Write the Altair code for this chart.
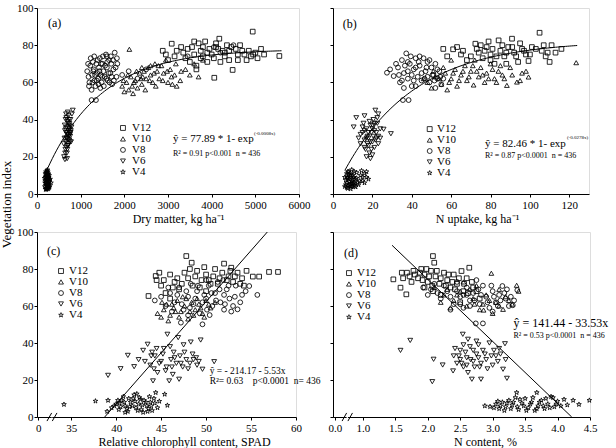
import altair as alt
import numpy as np
import pandas as pd

FONT = "Liberation Serif"
STAGES = ["V12", "V10", "V8", "V6", "V4"]
STAR = ("M0,-1L0.2245,-0.309L0.951,-0.309L0.363,0.118L0.588,0.809L0,0.382"
        "L-0.588,0.809L-0.363,0.118L-0.951,-0.309L-0.2245,-0.309Z")
SHAPES = ["square", "triangle-up", "circle", "triangle-down", STAR]
SIZES = [22, 24, 42, 22, 34]

# ---- (a) dry matter (kg/ha) vs vegetation index ----
A_V12 = [(2880,77),(2950,75),(3085,80.8),(3200,77),(3350,76),(3400,73),(3500,71),(3550,79),(3600,75),
         (3650,69),(3700,81),(3750,77),(3800,74),(3850,82),(3900,71),(3950,78),(4000,75),(4060,62.5),
         (4100,79),(4175,83.5),(4250,77),(4300,74),(4350,80),(4400,72),(4480,66.7),(4550,78),(4600,75),
         (4700,77),(4800,72),(4900,74),(4940,87.3),(5000,76),(5130,78),(5200,75),(5550,74.2),(4200,71),(3650,67),
         (3000,72),(3150,74),(3300,79),(3450,78),(3600,82),(3750,73),(3900,76),(4050,73),(4150,78),(4300,76),
         (4450,79),(4600,72),(4650,80),(4750,75),(4850,77),(4950,75),(5050,73),(3800,79),(4100,81),(4400,77)]
A_V10 = [(1950,58),(2000,55),(2050,60),(2100,56),(2150,63),(2200,54),(2250,61),(2300,57),(2350,65),(2400,59),
         (2450,66),(2500,62),(2550,68),(2600,64),(2650,60),(2700,70),(2750,66),(2800,62),(2850,69),(2900,65),
         (2950,72),(3000,60),(3050,67),(3100,59),(3150,64),(3200,58),(3300,66),(3500,64),(3700,63),(2115,77.8),
         (2400,68),(2600,69),(1980,61),(2080,64),(2180,58),(2280,66),(2380,62),(2480,56),(2580,61),(2680,65),
         (2780,69),(2880,61),(2980,66),(3080,63),(3180,70),(3280,61),(3400,67),(3600,70),(3800,72),(2220,60),
         (2420,63),(2720,58)]
A_V8 = [(1150,66),(1180,63),(1200,60),(1220,69),(1250,56),(1260,64),(1280,71),(1300,67),(1320,61),(1340,58),
        (1360,70),(1380,65),(1400,62),(1420,68),(1440,73),(1460,64),(1480,60),(1500,70),(1520,66),(1550,63),
        (1580,75),(1600,68),(1620,61),(1650,72),(1680,65),(1700,70),(1720,59),(1750,67),(1780,76),(1820,63),
        (1840,70),(1250,50.5),(1350,50.5),(1600,74),(1450,57),(1950,64),(2100,66),(2300,62),(2500,67),
        (3450,74),(4050,79),(4500,80),(4200,76),
        (1170,70),(1190,58),(1230,73),(1270,60),(1290,66),(1310,74),(1330,64),(1370,61),(1390,72),(1410,59),
        (1430,66),(1470,70),(1490,63),(1510,74),(1530,58),(1560,69),(1590,62),(1610,71),(1640,65),(1660,60),
        (1690,74),(1710,63),(1740,72),(1760,61),(1800,68),(1830,73)]
A_V6 = [(620,20),(640,18.5),(650,24),(660,28),(670,33),(680,36),(690,30),(700,26),(710,38),(720,42),(730,34),
        (740,29),(750,37),(760,31),(640,34),(655,40),(665,43),(675,25),(685,22),(700,39),(715,32),(725,27),
        (735,40),(745,35),(770,33),(780,28),(820,45),(790,36),(630,30),(705,44),
        (610,27),(635,37),(645,22),(660,35),(672,41),(688,32),(695,24),(708,29),(718,36),(728,31),(742,38),
        (755,28),(765,40),(775,34),(800,43),(690,19),(668,30),(712,26),(738,33),(752,32)]
A_V4 = [(180,4),(200,6),(210,3),(220,8),(230,5),(240,10),(250,7),(260,4),(270,9),(190,11),(205,12),(215,2.5),
        (225,6.5),(235,3.5),(245,8.5),(255,11),(265,6),(275,5),(285,7.5),(195,7),(210,9.5),(230,12.5),(240,4.5),
        (250,2.8),(260,10.5),(280,3.5),(300,8),(170,8.5),(220,5.5),(320,6),
        (185,6),(198,9),(208,4.5),(218,11),(228,3),(238,7),(248,12),(258,5.5),(268,8),(278,10),(288,4),
        (198,2.5),(228,9),(258,8.5),(238,13),(212,7.5),(272,6.8),(246,5.2),(232,10.8),(262,3)]

# ---- (b) N uptake (kg/ha) vs vegetation index ----
B_V12 = [(56,78),(61,77.8),(65,75),(68,72),(72.3,80.8),(74,76),(76,73),(78,79),(80,75),(82,70),(84.1,82.6),
         (85,77),(87,74),(89,79),(90.9,83.5),(92,76),(94,71),(96,78),(98,75),(99.3,71.5),(101,79),(104.9,86.7),
         (106,77),(108,74),(110,71),(111,80),(113,76),(116,78),(80,72),(88,70),
         (58,74),(63,79),(66,77),(70,74),(73,78),(75,80),(77,77),(79,82),(81,78),(83,74),(86,80),(88,76),
         (91,79),(93,74),(95,81),(97,77),(100,75),(103,78),(107,80),(109,76)]
B_V10 = [(48,60),(50,57),(52,63),(55,59),(57,65),(58,56),(60,62),(62,67),(63,58),(65,64),(67,69),(68,61),
         (70,66),(71.4,58.6),(72,72),(74,63),(75,68),(77,60),(78,65),(80,70),(82,62),(84,66),(86,64),(88.3,58.4),
         (90,68),(93.4,60.2),(96,65),(99.3,62.9),(123.5,70.6),(60,72),
         (46,62),(51,66),(54,62),(56,68),(59,60),(61,65),(64,61),(66,66),(69,63),(71,69),(73,66),(76,64),
         (79,62),(81,67),(83,60),(85,69),(87,62),(91,64),(95,61),(98,66)]
B_V8 = [(27.4,65.2),(30.8,63.4),(33,68),(34,60),(35,72),(35.5,50.5),(36,65),(37.2,75.6),(38,62),(38.4,50.5),
        (39,70),(40,58),(41,67),(42,73),(43,63),(44,69),(45,61),(46,73),(47,66),(48,71),(49,60),(50,68),(51,64),
        (52,70),(53,62),(54,66),(55,59),(36,57),(40,64),(44,74),(48,63),(52,57),(38,71),
        (29,67),(32,70),(33.5,64),(35,61),(36.5,69),(38,66),(39.5,74),(41,61),(42,68),(43.5,71),(45,65),
        (46.5,62),(47.5,68),(49,72),(50.5,64),(51.5,61),(53,67),(54.5,63),(56,62),(42,58)]
B_V6 = [(11.8,41),(10.5,36),(13,30),(14,27),(15,33),(15.5,38),(16,29),(16.5,24),(17,35),(17.5,31),(18,26),
        (18.5,22),(19,37),(19.5,33),(20,28),(20.5,40),(21,34),(21.5,45),(22,30),(22.5,38),(23,27),(24,35),
        (25.7,34.8),(29.4,32.4),(17,20),(19,19),(20,21),(23,43),(16,42),(21,25),
        (14,32),(15,36),(16,25),(17,30),(18,33),(18.5,39),(19,28),(19.5,24),(20,35),(20.5,31),(21,38),(22,33),
        (22.5,41),(23,31),(17.5,27),(16,34),(18,30),(20,37),(21.5,29),(24,30)]
B_V4 = [(6,4),(7,6),(7.5,3),(8,8),(8.5,5),(9,10),(9.5,7),(10,4),(10.5,9),(7,11),(8,12),(9,2.8),(11,6),(12,8.5),
        (13,5),(14,10),(15,7),(16,11),(17,9),(18,8),(6.5,7.5),(10,5.5),(11.5,3.8),(12,11.5),(13.5,7),(8.5,9),
        (16,6),(14.5,12.5),(9.5,13),(7.5,8.5),
        (6.5,5),(7.2,9),(7.8,4.5),(8.3,6.5),(8.8,11),(9.2,4),(9.8,8),(10.3,6),(10.8,12),(11.3,8),(6,9),(7,3.5),
        (8,10.5),(9,5.5),(10,10),(11,4.5),(12.5,6),(15,9),(17,12),(7.5,12)]

# ---- (c) SPAD reading vs vegetation index ----
C_V12 = [(43.6,65.4),(44.4,76.2),(44.5,74),(45,71),(45.5,67),(46,77),(46.5,73),(47,69),(47.8,87),(48.4,83.4),
         (48,75),(48.5,71),(49,79),(49.5,74),(50,77),(50.5,72),(51,80),(51.5,75),(52,82.9),(52.8,80.7),(52.5,76),
         (53,73),(53.5,78),(54,75),(55.2,75.9),(55.9,75.9),(57,78.4),(58,78.4),(46,64),(50,68),
         (44.8,78),(45.3,74),(46.3,70),(46.8,75),(47.3,72),(47.6,78),(48.2,80),(48.8,76),(49.3,70),(49.8,81),
         (50.3,74),(50.8,76),(51.3,72),(51.8,78),(52.3,74),(52.7,79),(53.2,76),(53.8,72),(54.5,79),(54.2,71)]
C_V10 = [(44.6,56),(45,54),(45.3,58),(45.6,61),(46,55),(46.4,59),(46.8,63),(47.2,57),(47.6,60),(48,53),
         (48.4,62),(48.8,58),(49.2,61),(49.6,56),(50,63),(50.5,59),(51,62),(45.8,52),(47.8,64),(49.8,54),
         (45.1,62),(46.2,61),(47,54),(47.4,65),(48.2,57),(49,64),(49.4,59),(50.3,61),(46.6,57),(48.6,55)]
C_V8 = [(44.3,63),(45.5,60),(46,67),(46.5,62),(47,70),(47.2,51),(47.5,58),(48,65),(48.3,72),(48.6,61),(49,68),
        (49.3,56),(49.6,50.1),(50,64),(50.3,71),(50.4,55.1),(50.7,60),(51,67),(51.3,73),(51.6,62),(52,58),
        (52.3,69),(52.6,64),(53,60),(53.5,58.2),(53.3,71),(54,66),(54.8,70.8),(55.7,66),(48,55),(50,74),(52,66),
        (45,65),(45.8,70),(46.2,57),(46.8,66),(47.3,61),(47.8,68),(48.2,59),(48.8,64),(49.1,71),(49.6,62),
        (50.1,58),(50.6,67),(51.1,63),(51.5,69),(52.1,61),(52.5,71),(52.8,57),(53.2,65),(53.8,62),(54.4,68),
        (51.9,74),(49.8,66)]
C_V6 = [(39.1,22.5),(40.5,26.1),(41.3,33.3),(42,27.2),(42.5,31),(43,36),(43.5,39.3),(43.8,28),(44.1,19.5),
        (44.3,33),(44.6,24),(45,30),(45.3,37),(45.7,44.7),(45.9,19.5),(46.2,27),(46.5,32),(46.9,42.9),(47,20.4),
        (47.2,29),(47.6,35),(48,26),(48.3,40.5),(48.6,31),(49,28),(49.4,41.6),(49.6,25.8),(50.9,29.9),(44,35),(46,38),
        (43.2,30),(43.9,33),(44.5,37),(44.8,29),(45.2,34),(45.6,27),(46.1,31),(46.4,35),(46.7,29),(47.1,33),
        (47.4,27),(47.8,31),(48.2,29),(48.5,34),(48.9,32),(47.5,39),(45.5,25),(44.2,26),(49.2,30),(46.3,23)]
C_V4 = [(34.2,6.8),(37.7,8.6),(39.1,9),(39,3),(39.5,5),(40,7),(40.3,4),(40.6,9),(41,6),(41.3,3),(41.6,8),
        (41.9,10),(42.2,5),(42.5,7),(42.8,4),(43.1,9),(43.4,6),(43.7,11),(44,3.5),(44.3,7.5),(44.6,5),(45.4,12.3),
        (44.4,13.2),(45.7,6.3),(40.8,11),(42,12),(43,2.5),(41.5,5.5),(42.7,9.5),(43.8,8),
        (39.8,6),(40.2,9),(40.5,5.5),(40.9,8),(41.2,4.5),(41.4,10),(41.8,6),(42.1,8.5),(42.4,3.5),(42.6,10.5),
        (42.9,6.5),(43.3,8),(43.6,4.5),(43.9,6),(44.2,10),(41,2.5),(42.3,12.5),(43.5,3),(40.4,7.5),(44.8,8.5)]

# ---- (d) N content (%) vs vegetation index ----
D_V12 = [(1.47,74.4),(1.58,69.9),(1.6,78),(1.67,66.3),(1.68,78),(1.72,76),(1.78,79),(1.85,75),(1.9,80),
         (1.95,77),(2.0,73),(2.05,79),(2.08,87),(2.1,83.4),(2.12,76),(2.18,72),(2.25,78),(2.3,74),(2.35,70),
         (2.4,77),(2.45,72),(2.52,78.9),(2.55,68),(2.6,75),(2.64,80.7),(2.7,70),(2.8,64),(2.2,66),(1.95,70),(2.5,62),
         (1.62,75),(1.75,73),(1.8,77),(1.88,78),(1.92,74),(1.98,80),(2.02,76),(2.07,71),(2.14,79),(2.2,75),
         (2.28,71),(2.32,77),(2.38,73),(2.42,69),(2.48,75),(2.56,72),(2.62,67),(2.68,73),(2.75,68),(2.08,68)]
D_V10 = [(2.1,70),(2.25,66),(2.4,63),(2.5,68),(2.6,60),(2.7,64),(2.8,58),(2.86,57.8),(2.9,66),(2.98,77.7),
         (3.05,62),(3.1,69),(3.16,58.2),(3.2,65),(3.3,61),(3.37,71.2),(2.55,73),(2.35,59),(2.75,71),(3.0,56),
         (2.2,62),(2.45,66),(2.65,69),(2.72,61),(2.95,63),(3.1,60),(3.25,63),(3.4,68),(2.3,69),(2.85,61)]
D_V8 = [(1.93,70),(2.0,66),(2.1,72),(2.2,64),(2.3,68),(2.4,61),(2.45,73),(2.5,65),(2.55,59),(2.6,70),(2.65,63),
        (2.7,67),(2.74,50.6),(2.8,61),(2.85,50.6),(2.85,71),(2.9,65),(2.95,59),(3.0,68),(3.05,62),(3.1,66),
        (3.15,70.8),(3.2,64),(3.25,60),(3.31,60.4),(3.38,68.6),(2.35,58),(2.75,74),(3.0,57),(2.55,66),
        (2.05,69),(2.15,67),(2.25,71),(2.35,65),(2.45,68),(2.5,61),(2.6,66),(2.65,60),(2.72,63),(2.78,69),
        (2.82,66),(2.92,62),(2.98,71),(3.02,65),(3.08,60),(3.12,63),(3.18,67),(3.22,69),(3.28,65),(3.33,63)]
D_V6 = [(1.58,36),(1.73,41.4),(2.07,19.1),(2.09,31.2),(2.23,28.1),(2.39,24.9),(2.4,33),(2.45,29),(2.5,36),
        (2.54,44.7),(2.55,27),(2.6,32),(2.65,38),(2.68,20.4),(2.7,30),(2.75,34),(2.8,27),(2.82,20.4),(2.85,36),
        (2.9,31),(2.95,40),(3.0,28),(3.05,33),(3.1,37),(3.16,25.8),(3.19,39.6),(3.22,20.9),(2.5,31),(2.62,42),(2.78,39),
        (2.42,37),(2.48,33),(2.52,29),(2.58,35),(2.6,28),(2.66,31),(2.7,36),(2.72,27),(2.78,32),(2.82,29),
        (2.88,34),(2.92,26),(2.98,33),(3.02,36),(3.08,30),(3.12,34),(3.2,31),(2.55,39),(2.75,41),(2.62,24)]
D_V4 = [(2.88,6),(2.96,5.6),(3.05,7),(3.1,4.5),(3.15,8),(3.2,5.5),(3.25,9),(3.3,6.5),(3.37,13.2),(3.4,4),
        (3.45,7.5),(3.5,10),(3.55,5),(3.6,8),(3.65,3.5),(3.68,13.2),(3.7,6),(3.75,9),(3.8,4.5),(3.85,7),(3.9,11),
        (3.93,10.5),(3.95,5.5),(4.0,8.5),(4.05,6),(4.1,9.5),(4.24,9),(4.33,6.8),(4.49,9),(3.35,10.5),
        (3.02,5),(3.08,8.5),(3.12,6),(3.18,3.5),(3.22,7.5),(3.28,4.5),(3.32,8),(3.38,5.5),(3.42,9.5),(3.48,6),
        (3.52,3.5),(3.58,7),(3.62,10.5),(3.68,4.5),(3.72,8),(3.78,6),(3.82,10),(3.88,5),(3.98,7),(4.15,6.5)]


def frame(groups):
    rows = []
    for stage, pts in zip(STAGES, groups):
        rows += [{"x": x, "y": y, "stage": stage} for x, y in pts]
    return pd.DataFrame(rows)


def panel(df, width, height, x_enc, y_enc, key, curve, notes, breaks=None):
    shape = alt.Shape("stage:N", scale=alt.Scale(domain=STAGES, range=SHAPES), legend=None)
    pts = alt.Chart(df).mark_point(filled=False, color="black", strokeWidth=0.85, opacity=1).encode(
        x=x_enc, y=y_enc, shape=shape,
        size=alt.Size("stage:O", scale=alt.Scale(domain=STAGES, range=SIZES), legend=None),
    )
    fit = alt.Chart(curve).mark_line(color="black", strokeWidth=1).encode(x=x_enc, y=y_enc)
    layers = [fit, pts]

    # in-panel key: one symbol and label per growth stage
    kx, lx, rows_y = key
    key_sym = pd.DataFrame({"stage": STAGES, "x": [kx] * 5, "y": rows_y})
    key_lab = pd.DataFrame({"stage": STAGES, "x": [lx] * 5, "y": rows_y})
    layers.append(alt.Chart(key_sym).mark_point(filled=False, color="black", strokeWidth=0.8,
                                                size=24, opacity=1)
                  .encode(x=x_enc, y=y_enc, shape=shape))
    layers.append(alt.Chart(key_lab).mark_text(align="left", baseline="middle", font=FONT, fontSize=11,
                                               color="black")
                  .encode(x=x_enc, y=y_enc, text="stage:N"))
    for t in notes:
        layers.append(
            alt.Chart(pd.DataFrame([{"x": t[0], "y": t[1], "t": t[2]}]))
            .mark_text(align="left", baseline="alphabetic", font=FONT, fontSize=t[3], color="black")
            .encode(x=x_enc, y=y_enc, text="t:N")
        )
    if breaks is not None:
        gap = pd.DataFrame([{"x": breaks[0][1], "x2": breaks[1][0], "y": 0, "y2": 0}])
        layers.append(alt.Chart(gap).mark_rule(color="white", strokeWidth=2)
                      .encode(x=x_enc, x2="x2:Q", y=y_enc, y2="y2:Q"))
        sl = pd.DataFrame([{"x": b[0], "x2": b[1], "y": -2.2, "y2": 2.2} for b in breaks])
        layers.append(alt.Chart(sl).mark_rule(color="black", strokeWidth=1)
                      .encode(x=x_enc, x2="x2:Q", y=y_enc, y2="y2:Q"))
    return alt.layer(*layers).properties(width=width, height=height)


axis_common = dict(labelFont=FONT, labelFontSize=11, labelColor="black", titleFont=FONT,
                   titleFontWeight="normal", titleColor="black",
                   domainColor="black", tickColor="black", tickSize=3, grid=False,
                   labelFlush=False, labelOverlap=False)

VI_TICKS = [0, 20, 40, 60, 80, 100]
y_left_a = alt.Y("y:Q", scale=alt.Scale(domain=[0, 100], nice=False),
                 axis=alt.Axis(values=VI_TICKS, title="Vegetation index", titleY=196, titleFontSize=13,
                               titlePadding=3, labelPadding=1, **axis_common))
y_left_c = alt.Y("y:Q", scale=alt.Scale(domain=[0, 100], nice=False),
                 axis=alt.Axis(values=VI_TICKS, title=None, labelPadding=1, **axis_common))
y_right = alt.Y("y:Q", scale=alt.Scale(domain=[0, 100], nice=False),
                axis=alt.Axis(values=VI_TICKS, title=None, labels=False, **axis_common))

x_a = alt.X("x:Q", scale=alt.Scale(domain=[0, 6000], nice=False, zero=False),
            axis=alt.Axis(values=list(range(0, 6001, 1000)), format="d", title="Dry matter, kg ha⁻¹",
                          titleX=141, titlePadding=3, labelPadding=2, titleFontSize=12, **axis_common))
x_b = alt.X("x:Q", scale=alt.Scale(domain=[0, 130], nice=False, zero=False),
            axis=alt.Axis(values=list(range(0, 121, 20)), format="d", title="N uptake, kg ha⁻¹",
                          titleX=144, titlePadding=3, labelPadding=2, titleFontSize=12, **axis_common))
x_c = alt.X("x:Q", scale=alt.Scale(domain=[31.2, 60], nice=False, zero=False),
            axis=alt.Axis(values=[31.35, 35, 40, 45, 50, 55, 60],
                          labelExpr="datum.value < 33 ? '0' : format(datum.value, 'd')",
                          title="Relative chlorophyll content, SPAD", titleFontSize=12,
                          titleX=147, titlePadding=3, labelPadding=2, **axis_common))
x_d = alt.X("x:Q", scale=alt.Scale(domain=[0.54, 4.5], nice=False, zero=False),
            axis=alt.Axis(values=[0.57, 1.0, 1.5, 2.0, 2.5, 3.0, 3.5, 4.0, 4.5],
                          labelExpr="datum.value < 0.8 ? '0.0' : format(datum.value, '.1f')",
                          title="N content, %", titleFontSize=12,
                          titleX=152, titlePadding=3, labelPadding=2, **axis_common))

# fitted curves from the reported equations
dm = np.arange(150, 5601, 50)
curve_a = pd.DataFrame({"x": dm, "y": 77.89 * (1 - np.exp(-0.0008 * dm))})
nu = np.arange(6, 124.1, 1)
curve_b = pd.DataFrame({"x": nu, "y": 82.46 * (1 - np.exp(-0.0278 * nu))})
sp = np.array([38.73, 56.81])
curve_c = pd.DataFrame({"x": sp, "y": -214.17 + 5.53 * sp})
nc = np.array([1.45, 4.218])
curve_d = pd.DataFrame({"x": nc, "y": 141.44 - 33.53 * nc})

NB = "\u00a0"
notes_a = [(250, 89.8, "(a)", 12), (3114, 28, "ŷ = 77.89 * 1- exp", 11),
           (4970, 31.5, "(-0.0008x)", 5), (3114, 20.4, f"R² = 0.91 p<0.001 {NB}n = 436", 8)]
notes_b = [(5, 89, "(b)", 12), (77.2, 25.4, "ŷ = 82.46 * 1- exp", 11),
           (118.8, 29.6, "(-0.0278x)", 5), (77.2, 19.4, f"R² = 0.87 p<0.0001 {NB}n = 436", 8)]
notes_c = [(32.3, 87.4, "(c)", 12), (50.4, 23.2, "ŷ = - 214.17 - 5.53x", 9.5),
           (50.4, 17.7, f"R²= 0.63 {NB}{NB} p<0.0001 {NB}n= 436", 9.5)]
notes_d = [(0.71, 86.6, "(d)", 12), (3.32, 48.6, "ŷ = 141.44 - 33.53x", 12),
           (3.32, 42.9, f"R² = 0.53 p<0.0001 {NB}n = 436", 8)]

# key positions: symbol x, label x, row y values (data units)
key_a = (1969, 2175, [35.5, 29.6, 23.7, 17.7, 11.8])
key_b = (49.1, 52.8, [34.9, 29.0, 23.1, 17.2, 11.3])
key_c = (33.87, 34.76, [78.9, 73.0, 67.0, 61.1, 55.1])
key_d = (0.786, 0.909, [77.8, 71.9, 65.9, 60.0, 54.0])

pa = panel(frame([A_V12, A_V10, A_V8, A_V6, A_V4]), 262, 186, x_a, y_left_a, key_a, curve_a, notes_a)
pb = panel(frame([B_V12, B_V10, B_V8, B_V6, B_V4]), 256, 186, x_b, y_right, key_b, curve_b, notes_b)
pc = panel(frame([C_V12, C_V10, C_V8, C_V6, C_V4]), 259, 185, x_c, y_left_c, key_c, curve_c, notes_c,
           breaks=[(32.31, 32.83), (32.9, 33.42)])
pd_ = panel(frame([D_V12, D_V10, D_V8, D_V6, D_V4]), 257, 185, x_d, y_right, key_d, curve_d, notes_d,
            breaks=[(0.68, 0.75), (0.77, 0.84)])

chart = (
    alt.concat(pa, pb, pc, pd_, columns=2, spacing={"row": 38, "column": 34})
    .properties(bounds="flush", padding={"left": 0, "top": 1, "right": 5, "bottom": 0})
    .resolve_scale(x="independent", y="independent", shape="independent", size="independent")
    .resolve_axis(x="independent", y="independent")
    .configure_view(stroke=None)
    .configure(background="white")
)

chart.save("out.html", embed_options={"renderer": "svg", "actions": False})
